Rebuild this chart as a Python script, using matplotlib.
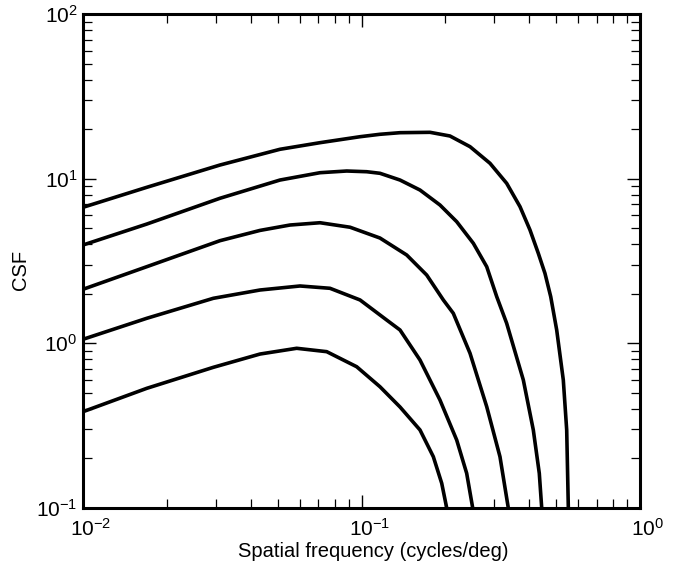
import matplotlib
matplotlib.use("Agg")
import matplotlib.pyplot as plt
import matplotlib.transforms as mtransforms
from matplotlib.ticker import LogLocator, NullFormatter, FixedLocator

plt.rcParams['font.family'] = ['Liberation Sans', 'DejaVu Sans']
plt.rcParams['mathtext.fontset'] = 'custom'
plt.rcParams['mathtext.rm'] = 'Liberation Sans'
plt.rcParams['mathtext.it'] = 'Liberation Sans'
plt.rcParams['mathtext.default'] = 'regular'

# Spatial frequency (cycles/deg) and CSF values
freq_a = [0.01, 0.01694, 0.03102, 0.05096, 0.07096, 0.0988, 0.1165, 0.1375, 0.1762,
          0.2078, 0.2453, 0.2893, 0.3321, 0.3708, 0.4027, 0.4314, 0.4558, 0.4780,
          0.5022, 0.5304, 0.5455, 0.5529]
csf_a = [6.70, 8.86, 12.1, 15.08, 16.54, 17.98, 18.60, 19.02, 19.12,
         18.16, 15.64, 12.40, 9.37, 6.76, 4.88, 3.52, 2.66, 1.920,
         1.205, 0.599, 0.2978, 0.1]

freq_b = [0.01, 0.01694, 0.03102, 0.05096, 0.07096, 0.0885, 0.1044, 0.1165, 0.1375,
          0.1622, 0.1913, 0.2197, 0.2521, 0.2816, 0.3059, 0.3321, 0.3811, 0.4139,
          0.4349, 0.4437]
csf_b = [3.955, 5.30, 7.60, 9.81, 10.87, 11.13, 11.02, 10.78, 9.81,
         8.53, 6.92, 5.48, 4.05, 2.92, 1.920, 1.323, 0.599, 0.2978,
         0.1624, 0.1]

freq_c = [0.01, 0.01694, 0.03102, 0.04321, 0.05537, 0.07096, 0.0910, 0.1165, 0.1453,
          0.1714, 0.1967, 0.2136, 0.2453, 0.2816, 0.3142, 0.3366]
csf_c = [2.129, 2.92, 4.20, 4.85, 5.23, 5.40, 5.07, 4.36, 3.44,
         2.60, 1.834, 1.522, 0.870, 0.4123, 0.2049, 0.1]

freq_d = [0.01, 0.01694, 0.02937, 0.04321, 0.06015, 0.07707, 0.0988, 0.1231, 0.1375,
          0.1622, 0.1913, 0.2197, 0.2386, 0.2508]
csf_d = [1.058, 1.419, 1.877, 2.108, 2.23, 2.159, 1.834, 1.386, 1.205,
         0.792, 0.4528, 0.2587, 0.1624, 0.1]

freq_e = [0.01, 0.01694, 0.02937, 0.04321, 0.05852, 0.07500, 0.0961, 0.1165, 0.1375,
          0.1622, 0.1811, 0.1941, 0.2023]
csf_e = [0.3844, 0.533, 0.715, 0.861, 0.933, 0.890, 0.721, 0.545, 0.4106,
         0.2978, 0.2049, 0.1413, 0.1]

x_ticks = [0.01, 0.1, 1.0]
x_labels = ['$10^{-2}$', '$10^{-1}$', '$10^{0}$']
y_ticks = [0.1, 1.0, 10.0, 100.0]
y_labels = ['$10^{-1}$', '$10^{0}$', '$10^{1}$', '$10^{2}$']

fig = plt.figure(figsize=(6.79, 5.72), dpi=100)
ax = fig.add_axes([83/679, 1-508/572, (640-83)/679, (508-14)/572])

for fx, cy in [(freq_a, csf_a), (freq_b, csf_b), (freq_c, csf_c),
               (freq_d, csf_d), (freq_e, csf_e)]:
    ax.plot(fx, cy, color='black', lw=2.6, solid_capstyle='butt',
            solid_joinstyle='round')

ax.set_xscale('log')
ax.set_yscale('log')
ax.set_xlim(0.01, 1.0)
ax.set_ylim(0.1, 100)

ax.xaxis.set_major_locator(FixedLocator(x_ticks))
ax.set_xticklabels(x_labels)
ax.yaxis.set_major_locator(FixedLocator(y_ticks))
ax.set_yticklabels(y_labels)
ax.xaxis.set_minor_locator(LogLocator(base=10, subs=range(2, 10)))
ax.yaxis.set_minor_locator(LogLocator(base=10, subs=range(2, 10)))
ax.xaxis.set_minor_formatter(NullFormatter())
ax.yaxis.set_minor_formatter(NullFormatter())

ax.tick_params(which='both', direction='in', top=True, right=True,
               labelsize=15, colors='black')
ax.tick_params(which='major', length=9.5, width=1.0)
ax.tick_params(axis='x', which='major', pad=7)
ax.tick_params(axis='y', which='major', pad=4)
ax.tick_params(which='minor', length=6.5, width=0.9)

# center the "10" base of each x tick label on its tick
shift = mtransforms.ScaledTranslation(8/100, 0, fig.dpi_scale_trans)
for lab in ax.get_xticklabels():
    lab.set_transform(lab.get_transform() + shift)

for sp in ax.spines.values():
    sp.set_linewidth(2.2)

ax.set_xlabel('Spatial frequency (cycles/deg)', fontsize=14.5)
ax.xaxis.set_label_coords((373-83)/557, -(542-508)/494)
ax.set_ylabel('CSF', fontsize=14.5)
ax.yaxis.set_label_coords((30-83)/557, (508-270)/494)

fig.savefig('out.png', dpi=100)
